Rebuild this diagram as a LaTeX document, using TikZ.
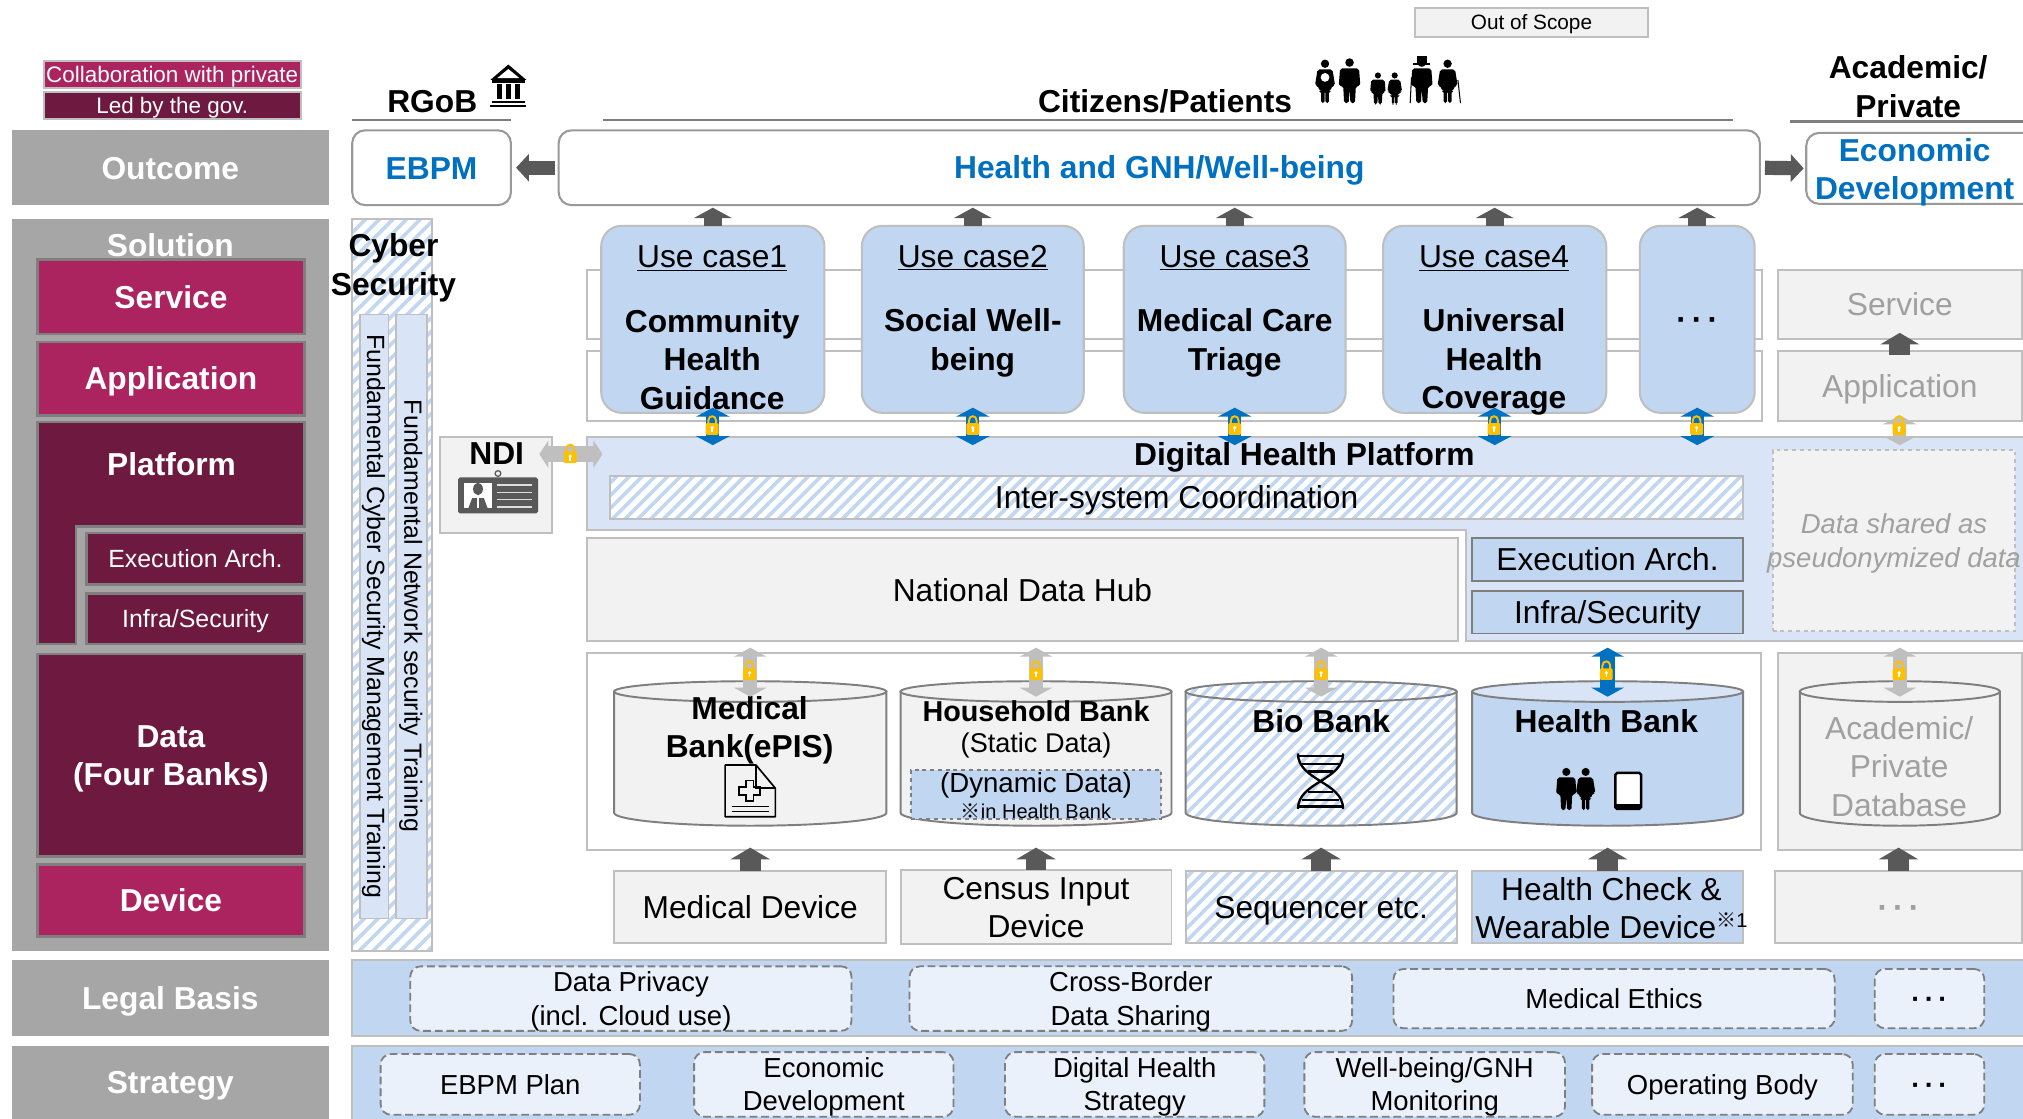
\documentclass[tikz,border=0pt]{standalone}
\usepackage{fontspec}
\setmainfont{Liberation Sans}
\newfontfamily\cjkf{Noto Sans CJK JP}
\usetikzlibrary{arrows.meta,patterns.meta}
\definecolor{grayband}{HTML}{A6A6A6}
\definecolor{magentab}{HTML}{AB2460}
\definecolor{wineb}{HTML}{6E193F}
\definecolor{ucblue}{HTML}{C1D6F0}
\definecolor{paleblue}{HTML}{D9E5F6}
\definecolor{iceblue}{HTML}{EAF1FA}
\definecolor{lightg}{HTML}{F2F2F2}
\definecolor{edgeg}{HTML}{BFBFBF}
\definecolor{midg}{HTML}{7F7F7F}
\definecolor{darka}{HTML}{595959}
\definecolor{bluet}{HTML}{0070C0}
\definecolor{goldl}{HTML}{FFC000}
\definecolor{ghostt}{HTML}{A0A0A0}
\newcommand{\fL}{\fontsize{24.6}{29.8}\selectfont}
\newcommand{\fM}{\fontsize{21.3}{26}\selectfont}
\newcommand{\fS}{\fontsize{19.3}{24}\selectfont}
\newcommand{\fT}{\fontsize{17.4}{21}\selectfont}
\newcommand{\st}{\rule[-.2em]{0pt}{1.12em}}
\newcommand{\dotsb}{\textbf{·\hspace{.16em}·\hspace{.16em}·}}
\tikzset{
  bb/.style={inner sep=0pt,outer sep=0pt,align=center,font=\fL},
  tx/.style={inner sep=0pt,outer sep=0pt,align=center,font=\fL},
  gband/.style={bb,fill=grayband,text=white,font=\fL\bfseries},
  magbox/.style={bb,fill=magentab,draw=midg,line width=2pt,text=white,font=\fL\bfseries},
  winebox/.style={bb,fill=wineb,draw=midg,line width=2pt,text=white,font=\fL\bfseries},
  subbox/.style={bb,fill=wineb,draw=midg,line width=2pt,text=white,font=\fS},
  outbox/.style={bb,fill=white,draw=midg!80,line width=1.6pt,rounded corners=10pt,text=bluet,font=\fL\bfseries},
  lightbox/.style={bb,fill=lightg,draw=edgeg,line width=1.5pt},
  frameb/.style={bb,fill=white,draw=edgeg,line width=1.5pt},
  ghost/.style={lightbox,text=ghostt},
  ucase/.style={bb,fill=ucblue,draw=edgeg,line width=1.6pt,rounded corners=16pt},
  hatch/.style={preaction={fill=white},pattern={Lines[angle=45,distance=#1,line width=2.8pt]},pattern color=ucblue},
  hbox/.style={bb,hatch=7pt,draw=edgeg,line width=1.5pt},
  coreb/.style={bb,fill=ucblue,draw=midg,line width=1.5pt},
  devb/.style={bb,fill=ucblue,draw=edgeg,line width=1.5pt},
  dashb/.style={bb,fill=iceblue,draw=midg,dashed,dash pattern=on 6pt off 3pt,line width=1.4pt,rounded corners=8pt,font=\fM},
  bandb/.style={bb,fill=ucblue,draw=edgeg,line width=1.5pt},
  vbar/.style={bb,fill=paleblue,draw=edgeg,line width=1pt},
  darkup/.style={draw=darka,line width=16pt,-{Triangle[length=9pt,width=30pt]}},
  darkside/.style={draw=darka,line width=11pt,-{Triangle[length=10pt,width=21pt]}},
  grayboth/.style={draw=edgeg,line width=11pt,{Triangle[length=7pt,width=25pt]}-{Triangle[length=7pt,width=25pt]}},
  blueboth/.style={draw=bluet,line width=11pt,{Triangle[length=7pt,width=25pt]}-{Triangle[length=7pt,width=25pt]}},
  cylline/.style={draw=midg,line width=1.5pt},
  headline/.style={draw=midg,line width=2pt}
}
\newcommand{\bx}[7][]{%
  \pgfmathsetmacro\qcx{(#3+#5)/2}\pgfmathsetmacro\qcy{(#4+#6)/2}%
  \pgfmathsetmacro\qw{abs(#5-#3)}\pgfmathsetmacro\qh{abs(#6-#4)}%
  \node[#1,minimum width=\qw pt,minimum height=\qh pt] (#2) at (\qcx,\qcy) {\st#7\st};}
\newcommand{\tn}[5][]{\node[tx,#1] (#2) at (#3,#4) {\st#5\st};}
% cylinder: body style, top style, name, x1, x2, y1, y2
\newcommand{\cyl}[7]{%
  \pgfmathsetmacro\qcx{(#4+#5)/2}\pgfmathsetmacro\qrx{(#5-#4)/2}%
  \pgfmathsetmacro\qa{#6+8}\pgfmathsetmacro\qb{#7-10}\pgfmathsetmacro\qc{#7-4.5}%
  \pgfmathsetmacro\qla{#4+.45*\qrx}\pgfmathsetmacro\qlb{#5-.45*\qrx}%
  \pgfmathsetmacro\qh{#7-#6}\pgfmathsetmacro\qw{#5-#4}\pgfmathsetmacro\qcy{(#6+#7)/2}%
  \path[#1,cylline] (#4,\qa) -- (#4,\qb) .. controls (#4,\qc) and (\qla,#7) .. (\qcx,#7)
     .. controls (\qlb,#7) and (#5,\qc) .. (#5,\qb) -- (#5,\qa) -- cycle;
  \path[#2,cylline] (\qcx,\qa) ellipse [x radius=\qrx,y radius=8];
  \node[inner sep=0pt,outer sep=0pt,minimum width=\qw pt,minimum height=\qh pt] (#3) at (\qcx,\qcy) {};}
\newcommand{\lockicon}[2]{%
  \begin{scope}[shift={(#1,#2)}]
    \draw[goldl,line width=1.5pt] (-3,-1) -- (-3,-4) .. controls (-3,-8.5) and (3,-8.5) .. (3,-4) -- (3,-1);
    \fill[goldl,rounded corners=1pt] (-5,-2) rectangle (5,7);
    \fill[white] (0,1.5) circle [radius=1.4];
    \fill[white] (-.6,2) rectangle (.6,5);
  \end{scope}}
\newcommand{\manicon}[4][black]{%
  \begin{scope}[shift={(#2,#3)},scale=#4/100]
    \fill[#1] (0,10) circle [radius=9.5];
    \fill[#1,rounded corners=1.5pt] (-21,23) -- (21,23) -- (24,62) -- (14,62) -- (12,100) -- (2,100) -- (0,68) -- (-2,100) -- (-12,100) -- (-14,62) -- (-24,62) -- cycle;
  \end{scope}}
\newcommand{\womanicon}[4][black]{%
  \begin{scope}[shift={(#2,#3)},scale=#4/100]
    \fill[#1] (0,10) circle [radius=9.5];
    \fill[#1,rounded corners=1.5pt] (-17,23) -- (17,23) -- (23,60) -- (16,60) -- (13,72) -- (9,72) -- (9,100) -- (1,100) -- (1,72) -- (-1,72) -- (-1,100) -- (-9,100) -- (-9,72) -- (-13,72) -- (-16,60) -- (-23,60) -- cycle;
  \end{scope}}
\begin{document}
\begin{tikzpicture}[x=1pt,y=-1pt]
\useasboundingbox (0,0) rectangle (1568,867);
\fill[white] (0,0) rectangle (1568,867);
% legend
\bx[bb,fill=magentab,draw=edgeg,line width=1.5pt,text=white,font=\fT]{legA}{34}{47}{233}{68}{Collaboration with private}
\bx[bb,fill=wineb,draw=edgeg,line width=1.5pt,text=white,font=\fT]{legB}{34}{71}{233}{92}{Led by the gov.}
\bx[lightbox,font=\fontsize{16.1}{20}\selectfont]{scope}{1097}{6}{1277}{29}{Out of Scope}
% left column
\bx[gband]{outcome}{9}{101}{255}{159}{Outcome}
\bx[gband]{sol}{9}{170}{255}{737}{}
\tn[text=white,font=\fL\bfseries]{solt}{132}{190}{Solution}
\bx[magbox]{svc}{29}{201}{236}{259}{Service}
\bx[magbox]{app}{29}{265}{236}{322}{Application}
\path[fill=wineb,draw=midg,line width=2pt] (29,327) -- (236,327) -- (236,408) -- (59,408) -- (59,499) -- (29,499) -- cycle;
\tn[text=white,font=\fL\bfseries]{platt}{133}{360}{Platform}
\bx[subbox]{lex}{67}{413}{236}{453}{Execution Arch.}
\bx[subbox]{lin}{67}{460}{236}{499}{Infra/Security}
\bx[winebox]{data}{29}{507}{236}{664}{Data\\(Four Banks)}
\bx[magbox]{devl}{29}{670}{236}{726}{Device}
\bx[gband]{legal}{9}{744}{255}{803}{Legal Basis}
\bx[gband]{strat}{9}{811}{255}{867}{Strategy}
% headers
\tn[font=\fL\bfseries]{rgob}{335}{78}{RGoB}
\draw[headline] (273,93) -- (396,93);
\tn[font=\fL\bfseries]{cit}{903}{78}{Citizens/Patients}
\draw[headline] (467,93) -- (1343,93);
\tn[font=\fL\bfseries]{acad}{1479}{67}{Academic/\\Private}
\draw[headline] (1387,94) -- (1568,94);
% outcome row
\bx[outbox]{ebpm}{273}{101}{396}{159}{EBPM}
\bx[outbox]{health}{433}{101}{1364}{159}{Health and GNH/Well-being}
\bx[outbox]{econ}{1400}{103}{1580}{158}{}
\tn[text=bluet,font=\fL\bfseries]{econt}{1484}{131}{Economic\\Development}
\draw[darkside,shorten <=3pt,shorten >=4pt] (health.west) -- (ebpm.east);
\draw[darkside,shorten <=4pt,shorten >=2pt] (health.east) -- (econ.west);
% cyber security
\bx[bb,hatch=7.5pt,draw=edgeg,line width=1.5pt]{cyber}{273}{170}{335}{737}{}
\bx[vbar]{vb1}{279}{244}{301}{712}{}
\bx[vbar]{vb2}{307}{244}{331}{712}{}
\tn[font=\fL\bfseries]{cybt}{305}{205}{Cyber\\Security}
\node[tx,font=\fS,rotate=-90] (vt1) at (289.5,477.5) {Fundamental Cyber Security Management Training};
\node[tx,font=\fS,rotate=-90] (vt2) at (318.5,477.5) {Fundamental Network security Training};
% bands
\bx[frameb]{bandS}{455}{209}{1366}{263}{}
\bx[frameb]{bandA}{455}{272}{1366}{326}{}
\bx[ghost]{rsvc}{1378}{209}{1567}{263}{Service}
\bx[ghost]{rapp}{1378}{272}{1567}{326}{Application}
% platform L
\path[fill=paleblue,draw=edgeg,line width=1.5pt] (455,339) -- (1575,339) -- (1575,497) -- (1136,497) -- (1136,411) -- (455,411) -- cycle;
\bx[bb]{dhp}{455}{339}{1568}{411}{}
\bx[bb]{dhpl}{1136}{339}{1568}{497}{}
\bx[hbox]{inter}{473}{369}{1351}{402}{Inter-system Coordination}
\bx[lightbox]{hub}{455}{417}{1130}{497}{National Data Hub}
\bx[coreb]{rex}{1141}{417}{1351}{450}{Execution Arch.}
\bx[coreb]{rin}{1141}{458}{1351}{491}{Infra/Security}
\bx[bb,fill=lightg,draw=edgeg,dashed,line width=1.5pt]{dsh}{1374}{349}{1562}{489}{}
\tn[font=\fM\itshape,text=ghostt]{dsht}{1468}{419}{Data shared as\\pseudonymized data}
% use cases
\bx[ucase]{uc1}{466}{175}{639}{320}{}
\bx[ucase]{uc2}{668}{175}{840}{320}{}
\bx[ucase]{uc3}{871}{175}{1043}{320}{}
\bx[ucase]{uc4}{1072}{175}{1245}{320}{}
\bx[ucase]{uc5}{1271}{175}{1360}{320}{\dotsb}
\tn{uct1}{552}{253.5}{\underline{Use case1}\\[20pt]\textbf{Community}\\\textbf{Health}\\\textbf{Guidance}}
\tn{uct2}{754}{238.5}{\underline{Use case2}\\[20pt]\textbf{Social Well-}\\\textbf{being}}
\tn{uct3}{957}{238.5}{\underline{Use case3}\\[20pt]\textbf{Medical Care}\\\textbf{Triage}}
\tn{uct4}{1158}{253.5}{\underline{Use case4}\\[20pt]\textbf{Universal}\\\textbf{Health}\\\textbf{Coverage}}
\foreach \u in {uc1,uc2,uc3,uc4,uc5}{
  \draw[darkup,line width=14pt,-{Triangle[length=8pt,width=29pt]},shorten >=2pt] (\u.north) -- (\u.north |- health.south);
  \draw[blueboth,line width=10pt,{Triangle[length=7pt,width=26pt]}-{Triangle[length=7pt,width=26pt]},shorten <=-4pt,shorten >=-6pt] (\u.south) -- (\u.south |- dhp.north);
}
\draw[darkup,shorten <=-3pt,shorten >=-5pt] (rapp.north) -- (rsvc.south);
\draw[grayboth,line width=10pt,{Triangle[length=7pt,width=26pt]}-{Triangle[length=7pt,width=26pt]},shorten <=-4pt,shorten >=-6pt] (rapp.south) -- (rapp.south |- dhp.north);
\lockicon{552}{330}\lockicon{754}{330}\lockicon{957}{330}\lockicon{1158}{330}\lockicon{1315}{330}\lockicon{1472}{330}
\tn[font=\fL\bfseries]{dhpt}{1011}{352}{Digital Health Platform}
% NDI
\bx[lightbox]{ndi}{341}{339}{428}{413}{}
\tn[font=\fL\bfseries]{ndit}{385}{351}{NDI}
\coordinate (ndiL) at (418,352);
\coordinate (ndiR) at (467,352);
\draw[grayboth,line width=12pt,{Triangle[length=7pt,width=21pt]}-{Triangle[length=7pt,width=21pt]}] (ndiL) -- (ndiR);
\lockicon{442}{352}
% card icon
\fill[darka,rounded corners=1.5pt] (355,370) rectangle (417,398);
\draw[darka,line width=1pt] (386,367) circle [radius=2.2];
\fill[white] (360,374) rectangle (381,394);
\fill[darka] (370.5,379) ellipse [x radius=3.8,y radius=4.8];
\fill[darka] (363,394) -- (366,386) -- (375,386) -- (378,394) -- cycle;
\fill[white] (370,386) rectangle (371,394);
\foreach \yy in {376,382,387,393}{\draw[white!80!darka,line width=1pt] (385,\yy) -- (412,\yy);}
% bank frames
\bx[frameb]{bankf}{455}{506}{1365}{659}{}
\bx[lightbox]{bankr}{1378}{506}{1567}{659}{}
\cyl{fill=lightg}{fill=lightg}{cMed}{476}{687}{528}{640}
\cyl{fill=lightg}{fill=lightg}{cHou}{698}{908}{528}{640}
\cyl{hatch=7pt}{hatch=7pt}{cBio}{919}{1129}{528}{640}
\cyl{fill=ucblue}{fill=paleblue}{cHea}{1141}{1351}{528}{640}
\cyl{fill=lightg}{fill=lightg}{cAca}{1395}{1550}{528}{640}
\tn[font=\fL\bfseries]{tMed}{581}{563.5}{Medical\\Bank(ePIS)}
\tn[font=\fontsize{22.3}{26}\selectfont\bfseries]{tHou}{803}{551}{Household Bank}
\tn[font=\fontsize{21}{26}\selectfont]{tSta}{803}{576}{(Static Data)}
\bx[bb,fill=ucblue,draw=midg,dashed,line width=1.4pt]{dyn}{706}{597}{900}{635}{}
\tn[font=\fontsize{21.4}{24}\selectfont]{tDyn}{803}{607}{(Dynamic Data)}
\tn[font=\fontsize{15.5}{18}\selectfont]{tIn}{803}{629}{{\cjkf ※}in Health Bank}
\tn[font=\fL\bfseries]{tBio}{1024}{559}{Bio Bank}
\tn[font=\fL\bfseries]{tHea}{1245}{559}{Health Bank}
\tn[text=ghostt]{tAca}{1472}{594}{Academic/\\Private\\Database}
% bank arrows
\foreach \c in {cMed,cHou,cBio}{
  \draw[grayboth,shorten <=-12pt,shorten >=5pt] (\c.north) -- (\c.north |- hub.south);
}
\draw[blueboth,shorten <=-12pt,shorten >=5pt] (cHea.north) -- (cHea.north |- dhpl.south);
\draw[grayboth,shorten <=-12pt,shorten >=13pt] (cAca.north) -- (cAca.north |- dsh.south);
\lockicon{581}{520}\lockicon{803}{520}\lockicon{1024}{520}\lockicon{1245}{520}\lockicon{1472}{520}
% devices
\bx[lightbox]{dMed}{476}{675}{687}{731}{Medical Device}
\bx[lightbox]{dHou}{698}{675}{908}{731}{Census Input\\Device}
\bx[hbox]{dBio}{919}{675}{1129}{731}{Sequencer etc.}
\bx[devb]{dHea}{1141}{675}{1351}{731}{}
\tn{tDev}{1249}{704}{Health Check \&\\Wearable Device\raisebox{.35em}{\fontsize{15.5}{15.5}\selectfont{\cjkf ※}1}}
\bx[ghost]{dAca}{1376}{675}{1567}{731}{\dotsb}
\foreach \d/\b in {dMed/bankf,dHou/bankf,dBio/bankf,dHea/bankf,dAca/bankr}{
  \draw[darkup,shorten >=-2pt] (\d.north) -- (\d.north |- \b.south);
}
% legal
\bx[bandb]{lband}{273}{744}{1575}{803}{}
\bx[dashb]{l1}{318}{751}{660}{797}{Data Privacy\\(incl. Cloud use)}
\bx[dashb]{l2}{705}{751}{1048}{797}{Cross-Border\\Data Sharing}
\bx[dashb]{l3}{1080}{751}{1422}{797}{Medical Ethics}
\bx[dashb]{l4}{1453}{751}{1538}{797}{\dotsb}
% strategy
\bx[bandb]{sband}{273}{811}{1575}{875}{}
\bx[dashb]{s1}{295}{817}{496}{864}{EBPM Plan}
\bx[dashb]{s2}{538}{817}{739}{864}{Economic\\Development}
\bx[dashb]{s3}{779}{817}{980}{864}{Digital Health\\Strategy}
\bx[dashb]{s4}{1011}{817}{1213}{864}{Well-being/GNH\\Monitoring}
\bx[dashb]{s5}{1234}{817}{1436}{864}{Operating Body}
\bx[dashb]{s6}{1453}{817}{1538}{864}{\dotsb}
% bank icon
\fill (394,50) -- (408,62) -- (380,62) -- cycle;
\fill[white] (394,53.5) -- (402.5,60.5) -- (385.5,60.5) -- cycle;
\fill (381,62) rectangle (407,64);
\foreach \xx in {385,392,399}{\fill (\xx,65) rectangle (\xx+4,77);}
\fill (381,78) rectangle (407,80);
\fill (380,81) rectangle (408,83);
% citizens icons
\womanicon{1027}{46}{34}
\fill[white] (1027,60) circle [radius=3.4];
\manicon{1046}{45}{35}
\manicon{1068}{56}{25}
\womanicon{1081}{56}{25}
\manicon{1102}{45}{35}
\fill (1095.5,48.5) rectangle (1108.5,50); \fill (1098,43.5) rectangle (1106,49);
\draw[line width=.8pt] (1094,60) -- (1093,80);
\womanicon{1122}{46}{34}
\draw[line width=.8pt] (1130,62) -- (1132,80);
% document icon
\draw[line width=1.3pt,line join=round] (562,593) -- (586,593) -- (601,611) -- (601,633) -- (562,633) -- cycle;
\draw[line width=1.3pt] (586,593) -- (586,611) -- (601,611);
\draw[line width=1.3pt] (578,605) -- (584,605) -- (584,610) -- (589,610) -- (589,616) -- (584,616) -- (584,621) -- (578,621) -- (578,616) -- (573,616) -- (573,610) -- (578,610) -- cycle;
\draw[line width=1.1pt] (567,625) -- (596,625) (567,629) -- (596,629);
% dna icon
\draw[line width=1.8pt] (1041,584) .. controls (1041,605) and (1006,606) .. (1006,627);
\draw[line width=1.8pt] (1006,584) .. controls (1006,605) and (1041,606) .. (1041,627);
\foreach \yy/\a/\b in {586/1007/1040,592/1009/1038,598/1014/1033,614/1014/1033,620/1009/1038,625/1007/1040}{\draw[line width=1.8pt] (\a,\yy) -- (\b,\yy);}
% health bank icon
\manicon{1214}{595}{33}
\womanicon{1229}{595}{33}
\draw[line width=2pt,fill=white,rounded corners=1.5pt] (1252,599) rectangle (1272,627);
\fill (1252,623) rectangle (1272,627);
\end{tikzpicture}
\end{document}
